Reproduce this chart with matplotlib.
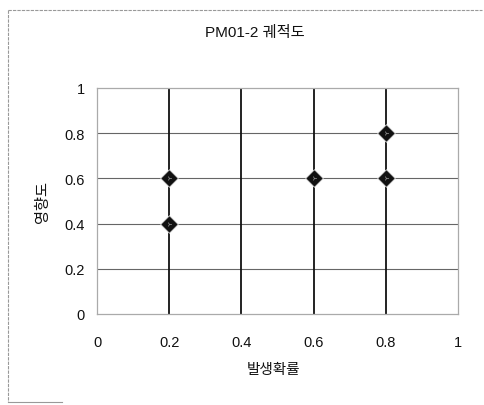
import matplotlib
matplotlib.use("Agg")
import matplotlib.pyplot as plt
from matplotlib.lines import Line2D

plt.rcParams['font.family'] = ['Liberation Sans', 'Noto Sans CJK KR', 'DejaVu Sans']

title = "PM01-2 궤적도"
x_label = "발생확률"
y_label = "영향도"
prob = [0.2, 0.2, 0.6, 0.8, 0.8]
impact = [0.6, 0.4, 0.6, 0.8, 0.6]
x_ticks = [0, 0.2, 0.4, 0.6, 0.8, 1]
y_ticks = [0, 0.2, 0.4, 0.6, 0.8, 1]
x_tick_labels = ["0", "0.2", "0.4", "0.6", "0.8", "1"]
y_tick_labels = ["0", "0.2", "0.4", "0.6", "0.8", "1"]

fig = plt.figure(figsize=(4.84, 4.06), dpi=100)
fig.patch.set_facecolor('white')

# outer chart frame
fig.add_artist(Line2D([8/484, 482/484], [1-11/406, 1-11/406], transform=fig.transFigure,
                      color='#999999', lw=0.8, ls=(0, (3, 1))))
fig.add_artist(Line2D([8/484, 8/484], [1-11/406, 1-403/406], transform=fig.transFigure,
                      color='#999999', lw=0.8, ls=(0, (3, 1))))
fig.add_artist(Line2D([8/484, 62/484], [1-403/406, 1-403/406], transform=fig.transFigure,
                      color='#999999', lw=0.8))

ax = fig.add_axes([97/484, 1-315/406, 361/484, 226/406])
ax.set_xlim(0, 1)
ax.set_ylim(0, 1)

for y in y_ticks[1:-1]:
    ax.axhline(y, color='#666666', lw=0.8, zorder=1)
for x in x_ticks[1:-1]:
    ax.axvline(x, color='#111111', lw=1.3, zorder=1)

for s in ax.spines.values():
    s.set_color('#aaaaaa')
    s.set_linewidth(0.9)
    s.set_linestyle((0, (4, 1)))

ax.scatter(prob, impact, marker='D', s=80, c='#111111', edgecolors='#dddddd',
           linewidths=0.6, zorder=3)
ax.scatter(prob, impact, marker='4', s=12, c='#888888', linewidths=0.6, zorder=4)

ax.set_xticks(x_ticks)
ax.set_xticklabels(x_tick_labels)
ax.set_yticks(y_ticks)
ax.set_yticklabels(y_tick_labels)
ax.tick_params(axis='both', length=0, labelsize=10.5, colors='#111111')
ax.tick_params(axis='x', pad=15)
ax.tick_params(axis='y', pad=9)

fig.text(255/484, 1-33/406, title, ha='center', va='center', fontsize=11, color='#111111')
fig.text(273/484, 1-370/406, x_label, ha='center', va='center', fontsize=10.5, color='#111111')
fig.text(43/484, 1-202/406, y_label, ha='center', va='center', fontsize=11,
         rotation=90, color='#111111')

fig.savefig('out.png', dpi=100, facecolor='white')
